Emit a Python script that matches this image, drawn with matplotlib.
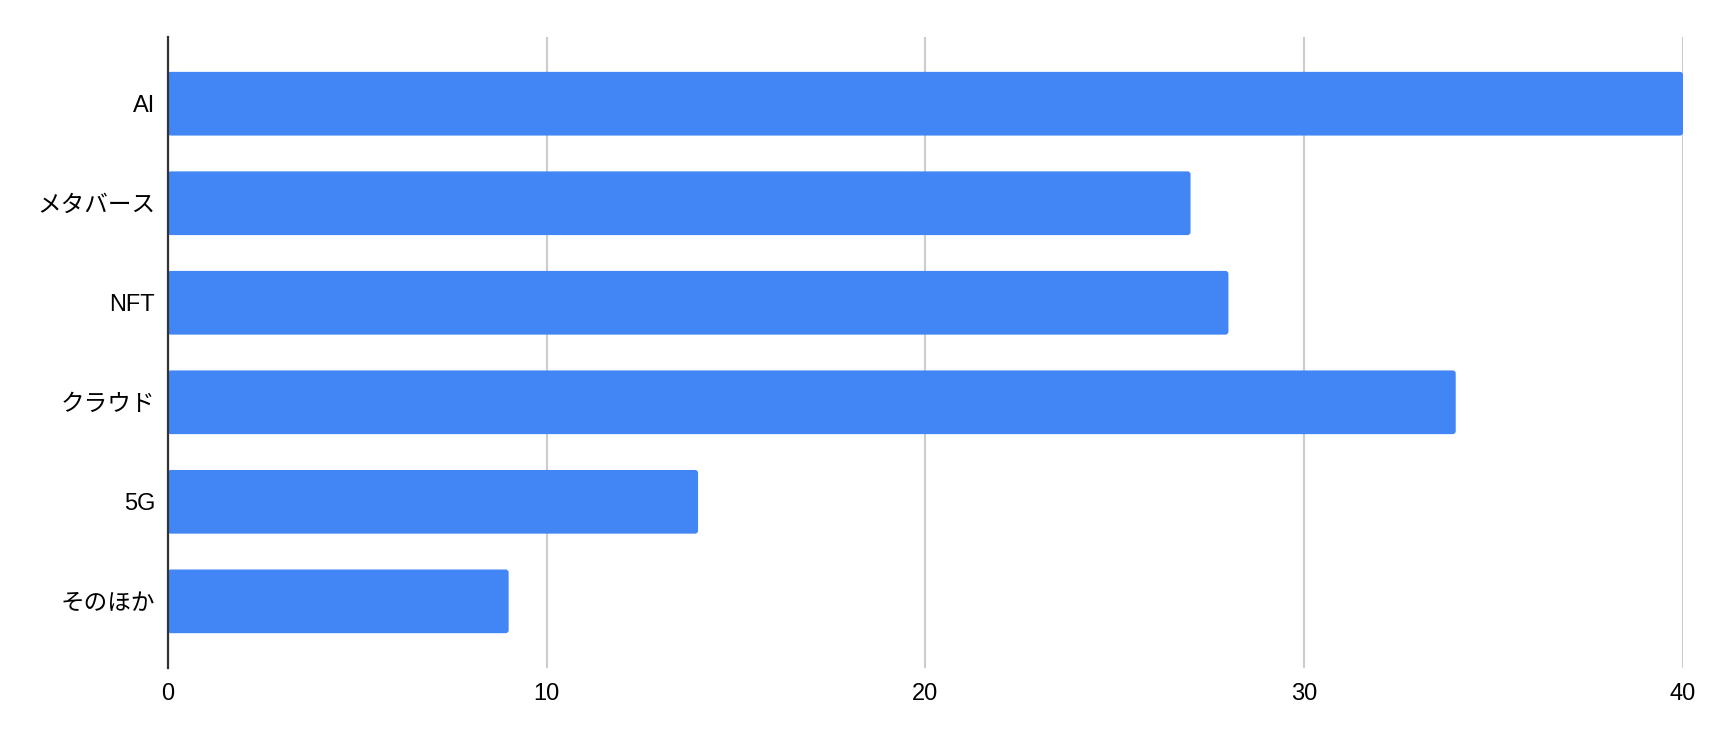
import matplotlib
matplotlib.use("Agg")
import matplotlib.pyplot as plt
from matplotlib.patches import FancyBboxPatch

categories = ["AI", "メタバース", "NFT", "クラウド", "5G", "そのほか"]
values = [40, 27, 28, 34, 14, 9]
xticks = [0, 10, 20, 30, 40]

plt.rcParams['font.family'] = ['Liberation Sans', 'Noto Sans CJK JP', 'DejaVu Sans']

fig = plt.figure(figsize=(17.2, 7.42), dpi=100)
ax = fig.add_axes([0.0975, 0.0997, 0.881, 0.8504])

y = list(range(len(categories)))
bars = ax.barh(y, values, height=0.64, color="#4285F4", zorder=3)

# replace with slightly rounded bars using the library-computed geometry
for b in bars:
    x0, y0, w, h = b.get_x(), b.get_y(), b.get_width(), b.get_height()
    b.set_visible(False)
    fp = FancyBboxPatch((x0, y0), w, h,
                        boxstyle="round,pad=0,rounding_size=0.08",
                        mutation_aspect=0.38,
                        facecolor="#4285F4", edgecolor="none", zorder=3)
    ax.add_patch(fp)

ax.set_xlim(0, 40)
ax.set_ylim(len(categories) - 1 + 0.67, -0.67)
ax.set_yticks(y)
ax.set_yticklabels(categories)
ax.set_xticks(xticks)
ax.set_xticklabels([str(t) for t in xticks])

ax.tick_params(axis='both', length=0, labelsize=17, colors='#000000')
ax.tick_params(axis='y', pad=9)
ax.tick_params(axis='x', pad=11)

ax.grid(axis='x', color='#cccccc', linewidth=1.5, zorder=0)
ax.grid(axis='y', visible=False)
for s in ['top', 'right', 'bottom']:
    ax.spines[s].set_visible(False)
ax.spines['left'].set_color('#333333')
ax.spines['left'].set_linewidth(1.6)
ax.spines['left'].set_zorder(4)

fig.savefig("out.png", dpi=100)
